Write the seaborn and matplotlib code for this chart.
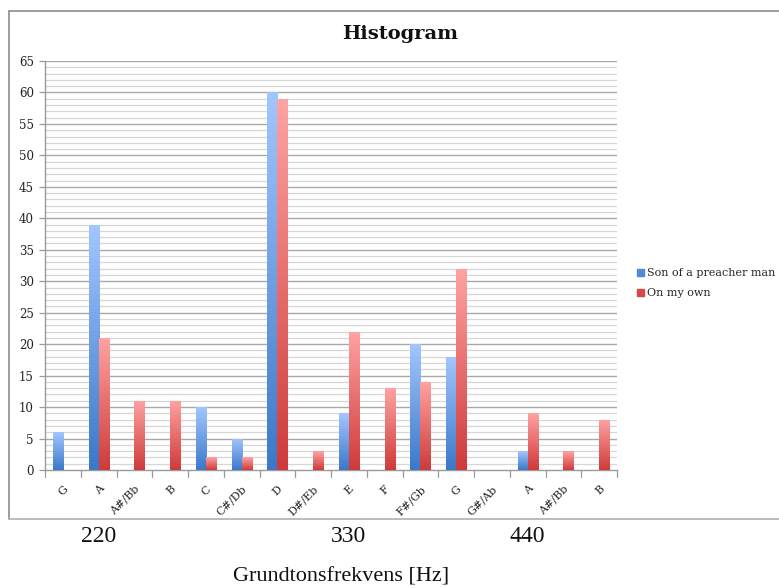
import numpy as np
import pandas as pd
import matplotlib
matplotlib.use("Agg")
import matplotlib.pyplot as plt
from matplotlib.colors import LinearSegmentedColormap
from matplotlib.patches import Rectangle
import seaborn as sns

# Note names along the x axis (two octaves starting on G)
notes = ["G", "A", "A#/Bb", "B", "C", "C#/Db", "D", "D#/Eb", "E", "F",
         "F#/Gb", "G", "G#/Ab", "A", "A#/Bb", "B"]
son_of_a_preacher_man = [6, 39, 0, 0, 10, 5, 60, 0, 9, 0, 20, 18, 0, 3, 0, 0]
on_my_own = [0, 21, 11, 11, 2, 2, 59, 3, 22, 13, 14, 32, 0, 9, 3, 8]
series_names = ["Son of a preacher man", "On my own"]

# Reference frequencies written under the note axis
freq_labels = ["220", "330", "440"]
freq_positions = [1, 8, 13]

sns.set_theme(style="white")
plt.rcParams["font.family"] = ["DejaVu Serif"]

slots = [f"{i:02d}" for i in range(len(notes))]
df = pd.DataFrame({
    "slot": slots * 2,
    "count": son_of_a_preacher_man + on_my_own,
    "song": [series_names[0]] * len(notes) + [series_names[1]] * len(notes),
})

fig = plt.figure(figsize=(7.79, 5.88), dpi=100)
ax = fig.add_axes([45 / 779, 1 - 470 / 588, (617 - 45) / 779, (470 - 61) / 588])

palette = {series_names[0]: "#4f8ad6", series_names[1]: "#d84a4a"}
sns.barplot(data=df, x="slot", y="count", hue="song", order=slots,
            hue_order=series_names, palette=palette, width=0.56,
            ax=ax, legend=False, saturation=1, linewidth=0, zorder=3)

n = len(notes)

# Vertical colour gradients inside each bar
blue_cmap = LinearSegmentedColormap.from_list("blue_grad", ["#3b78c8", "#a3c6ff"])
red_cmap = LinearSegmentedColormap.from_list("red_grad", ["#cf3a3a", "#ffa3a3"])
grad = np.linspace(0, 1, 256).reshape(-1, 1)
for i, bar in enumerate(ax.patches[:2 * n]):
    h = bar.get_height()
    if h <= 0:
        continue
    cmap = blue_cmap if i < n else red_cmap
    x0 = bar.get_x()
    w = bar.get_width()
    bar.set_alpha(0)
    im = ax.imshow(grad, cmap=cmap, origin="lower", aspect="auto",
                   extent=(x0, x0 + w, 0, h), zorder=3, interpolation="bicubic")
    clip = Rectangle((x0, 0), w, h, transform=ax.transData)
    im.set_clip_path(clip)
ax.set_xlim(-0.5, n - 0.5)
ax.set_ylim(0, 65)

# Gridlines: light minor lines every unit, darker majors every 5
for v in range(1, 66):
    major = v % 5 == 0
    ax.axhline(v, color="#a8a8a8" if major else "#d6d6d6",
               lw=1.0 if major else 0.9, zorder=1)

ax.set_yticks(range(0, 66, 5))
ax.set_yticklabels([str(v) for v in range(0, 66, 5)], fontsize=8.5,
                   color="#222222")
ax.set_xticks(range(n))
ax.set_xticklabels(notes, rotation=45, ha="right", rotation_mode="anchor",
                   fontsize=8, color="#222222")
ax.tick_params(axis="x", length=0, pad=10)
ax.tick_params(axis="y", length=4, color="#9a9a9a", width=0.9, pad=4, left=True)
for b in np.arange(-0.5, n, 1.0):
    ax.plot([b, b], [0, -1.1], color="#9a9a9a", lw=0.9, clip_on=False, zorder=2)
for s in ["top", "right"]:
    ax.spines[s].set_visible(False)
for s in ["left", "bottom"]:
    ax.spines[s].set_color("#9a9a9a")
    ax.spines[s].set_linewidth(1.0)
ax.set_xlabel("")
ax.set_ylabel("")

# Legend
handles = [Rectangle((0, 0), 1, 1, color="#4f8ad6"),
           Rectangle((0, 0), 1, 1, color="#d84a4a")]
fig.legend(handles, series_names, loc="center left",
           bbox_to_anchor=(637 / 779, 1 - 283 / 588), frameon=False,
           fontsize=8, handlelength=0.6, handleheight=0.6, handletextpad=0.3,
           labelspacing=0.9, borderaxespad=0, borderpad=0)

fig.text(400 / 779, 1 - 34 / 588, "Histogram", ha="center", va="center",
         fontsize=14, fontweight="bold", color="#111111")

# Outer chart frame (left, top and bottom edges)
frame_color = "#8c8c8c"
fig.add_artist(plt.Line2D([9 / 779, 9 / 779], [1 - 11 / 588, 1 - 519 / 588],
                          transform=fig.transFigure, color=frame_color, lw=1.2))
fig.add_artist(plt.Line2D([9 / 779, 1], [1 - 11 / 588, 1 - 11 / 588],
                          transform=fig.transFigure, color=frame_color, lw=1.2))
fig.add_artist(plt.Line2D([9 / 779, 1], [1 - 519 / 588, 1 - 519 / 588],
                          transform=fig.transFigure, color="#b0b0b0", lw=1.2))

# Frequency labels under the chart and the axis title
for lab, pos in zip(freq_labels, freq_positions):
    xf = fig.transFigure.inverted().transform(ax.transData.transform((pos, 0)))[0]
    fig.text(xf, 1 - 536 / 588, lab, ha="center", va="center", fontsize=17,
             family="Liberation Serif", color="#111111")
fig.text(341 / 779, 1 - 577 / 588, "Grundtonsfrekvens [Hz]", ha="center",
         va="center", fontsize=16, family="Liberation Serif", color="#111111")

fig.savefig("out.png", dpi=100)
